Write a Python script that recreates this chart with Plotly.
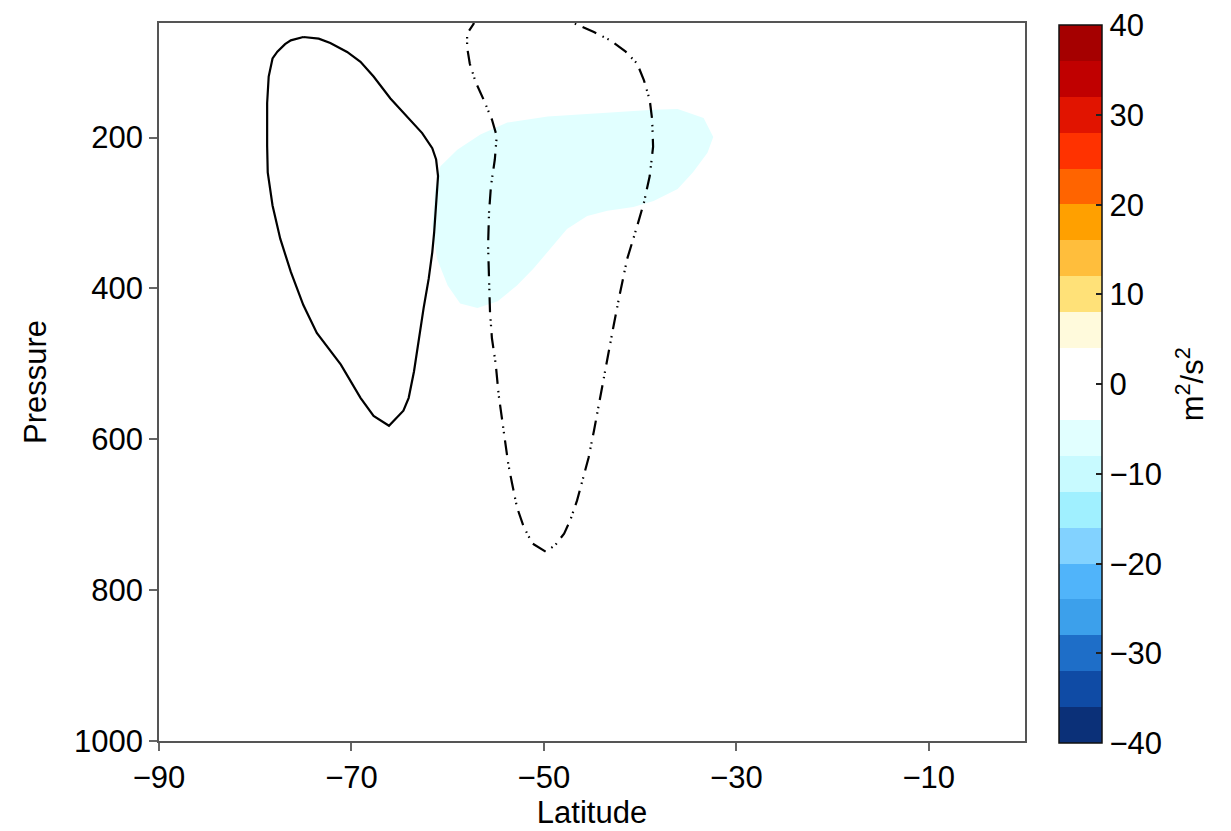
import plotly.graph_objects as go

# Colour levels of the shaded field (m^2/s^2), one colour per 4-unit bin, from -40 up to 40
level_edges = [-40, -36, -32, -28, -24, -20, -16, -12, -8, -4, 0,
               4, 8, 12, 16, 20, 24, 28, 32, 36, 40]
bin_colors = ["#0B3078", "#0F4BA5", "#1E6EC8", "#3CA0EB", "#50B4FA",
              "#82D2FF", "#A0F0FF", "#C8FAFF", "#E1FFFF", "#FFFFFF",
              "#FFFFFF", "#FFFADC", "#FFE178", "#FFBE3C", "#FFA000",
              "#FF6400", "#FF3200", "#E11400", "#C00000", "#A50000"]
cbar_ticks = [-40, -30, -20, -10, 0, 10, 20, 30, 40]

# Shaded region in the -8..-4 bin (latitude, pressure)
shade_lat = [-60.75, -59.0, -56.6, -53.8, -49.6, -43.8, -38.6, -36.1, -33.4, -32.4,
             -33.0, -34.5, -36.1, -38.6, -40.7, -43.4, -45.5, -47.6, -49.3, -51.1,
             -52.8, -54.8, -56.9, -58.7, -60.0, -61.1, -61.6, -61.3]
shade_p = [238, 216, 196, 180, 172, 167, 163, 162, 174, 199,
           220, 246, 268, 284, 292, 297, 304, 321, 347, 374,
           396, 417, 426, 420, 396, 361, 317, 268]

# Solid contour (closed)
solid_lat = [-75.0, -73.4, -72.2, -70.45, -69.06, -67.7, -65.95, -64.2, -62.65, -61.6,
             -61.2, -61.0, -61.2, -61.4, -61.6, -61.97, -62.5, -63.0, -63.5, -64.05,
             -64.6, -66.1, -67.7, -69.06, -71.1, -73.6, -75.0, -76.3, -77.4, -78.2,
             -78.7, -78.76, -78.76, -78.6, -78.2, -77.7, -76.9, -76.3, -75.0]
solid_p = [66.6, 68.7, 74.5, 86.4, 99.5, 119, 148, 172, 194, 214,
           229, 251, 290, 325, 352, 387, 426, 466, 510, 545,
           562, 582, 569, 545, 501, 459, 422, 378, 334, 290,
           246, 211, 154, 119, 95, 86, 76, 71, 66.6]

# Dash-dot contour (open at the top of the domain)
dash_lat = [-57.4, -57.3, -57.98, -57.98, -57.7, -57.1, -56.25, -55.4, -54.9, -55.1,
            -55.5, -55.7, -55.8, -55.7, -55.6, -55.4, -55.0, -54.7, -54.3, -54.0,
            -53.7, -53.3, -52.8, -52.1, -51.2, -49.8, -48.8, -47.9, -47.25, -46.55,
            -45.9, -45.35, -44.8, -44.3, -43.8, -43.3, -42.75, -42.2, -41.35, -40.3,
            -39.6, -39.0, -38.65, -38.75, -39.0, -39.6, -40.3, -41.5, -43.1, -44.8,
            -46.55, -48.0]
dash_p = [40, 49, 62, 80, 102, 126, 150, 176, 198, 229,
          264, 299, 343, 387, 431, 466, 501, 541, 576, 607,
          633, 659, 690, 716, 738, 749, 740, 725, 707, 681,
          650, 624, 589, 554, 519, 484, 449, 413, 361, 317,
          286, 251, 212, 176, 150, 124, 102, 86, 71, 60,
          50, 42]

x_ticks = [-90, -70, -50, -30, -10]
y_ticks = [200, 400, 600, 800, 1000]

n = len(bin_colors)
colorscale = []
for i, c in enumerate(bin_colors):
    colorscale.append([i / n, c])
    colorscale.append([(i + 1) / n, c])

FONT = "Liberation Sans, Arial, Helvetica, sans-serif"
FS = 31
fig = go.Figure()

fig.add_trace(go.Scatter(
    x=shade_lat, y=shade_p, mode="lines", fill="toself",
    fillcolor=bin_colors[8], line=dict(width=0, color=bin_colors[8]),
    hoverinfo="skip", showlegend=False))

fig.add_trace(go.Scatter(
    x=solid_lat, y=solid_p, mode="lines",
    line=dict(color="black", width=2.2), showlegend=False))

fig.add_trace(go.Scatter(
    x=dash_lat, y=dash_p, mode="lines",
    line=dict(color="black", width=2.2, dash="15px,7px,1.5px,4px,1.5px,7px"),
    showlegend=False))

# Colour bar for the shaded levels
fig.add_trace(go.Scatter(
    x=[None], y=[None], mode="markers", showlegend=False, hoverinfo="skip",
    marker=dict(color=[level_edges[0]], colorscale=colorscale,
                cmin=level_edges[0], cmax=level_edges[-1], showscale=True,
                colorbar=dict(
                    x=1.0395, xanchor="left", xpad=0,
                    y=0.497, yanchor="middle", ypad=0, len=1.0,
                    thickness=43, thicknessmode="pixels",
                    outlinecolor="#111", outlinewidth=1.5,
                    tickvals=cbar_ticks, ticks="inside", ticklen=6,
                    tickcolor="#222", tickwidth=1.5,
                    tickfont=dict(family=FONT, size=FS, color="black"),
                ))))

# Colour bar units, set vertically to the right of the tick labels
fig.add_annotation(
    text="m<sup>2</sup>/s<sup>2</sup>", textangle=-90,
    xref="paper", yref="paper", x=1.1907, y=0.497,
    xanchor="center", yanchor="middle", showarrow=False,
    font=dict(family=FONT, size=FS, color="black"))

axis_common = dict(
    showgrid=False, zeroline=False, showline=True, linecolor="#555",
    linewidth=1.5, mirror=True, ticks="outside", ticklen=8,
    tickcolor="#666", tickwidth=1.5,
    tickfont=dict(family=FONT, size=FS, color="black"),
)

fig.update_xaxes(range=[-90, 0], tickvals=x_ticks,
                 title=dict(text="Latitude", font=dict(family=FONT, size=FS, color="black"),
                            standoff=2),
                 **axis_common)
fig.update_yaxes(range=[1000, 48], tickvals=y_ticks,
                 title=dict(text="Pressure", font=dict(family=FONT, size=FS, color="black"),
                            standoff=18),
                 **axis_common)

fig.update_layout(
    width=1231, height=831,
    margin=dict(l=158.5, r=206.2, t=22.5, b=85.5),
    paper_bgcolor="white", plot_bgcolor="white",
    font=dict(family=FONT, size=FS, color="black"),
)

fig.write_html("out.html")
